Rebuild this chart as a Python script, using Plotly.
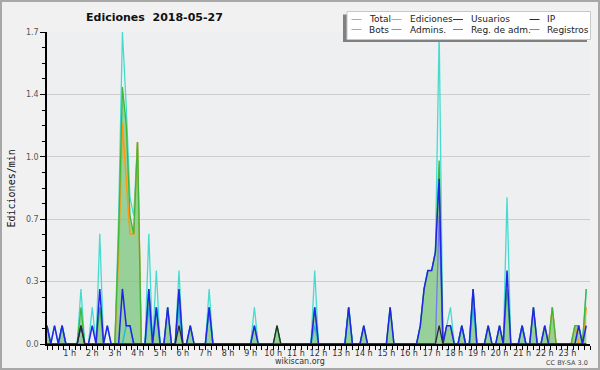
import plotly.graph_objects as go

# 10-minute slots, 6 per hour (one row per hour, 0 h .. 23 h)
total = [
    .1, 0, .1, 0, .1, 0,
    0, 0, 0, .3, 0, 0,
    .2, 0, .6, 0, .1, 0,
    0, .7, 1.7, 1.3, .8, .7,
    1.1, 0, 0, .6, 0, .4,
    0, 0, .2, 0, 0, .4,
    0, 0, .1, 0, 0, 0,
    0, .3, 0, 0, 0, 0,
    0, 0, 0, 0, 0, 0,
    0, .2, 0, 0, 0, 0,
    0, .1, 0, 0, 0, 0,
    0, 0, 0, 0, 0, .4,
    0, 0, 0, 0, 0, 0,
    0, 0, .2, 0, 0, 0,
    .1, 0, 0, 0, 0, 0,
    0, .2, 0, 0, 0, 0,
    0, 0, 0, .1, .3, .4,
    .4, .5, 1.7, 0, .1, .2,
    0, 0, .1, 0, 0, .3,
    0, 0, 0, .1, 0, 0,
    .1, 0, .8, 0, 0, 0,
    .1, 0, 0, .2, 0, 0,
    .1, 0, .2, 0, 0, 0,
    0, 0, .1, .1, 0, .3,
]
ediciones = [
    .1, 0, 0, 0, .1, 0,
    0, 0, 0, .2, 0, 0,
    0, 0, .2, 0, 0, 0,
    0, .6, 1.4, 1.2, .7, .6,
    1.1, 0, 0, .3, 0, .2,
    0, 0, .2, 0, 0, .3,
    0, 0, .1, 0, 0, 0,
    0, .2, 0, 0, 0, 0,
    0, 0, 0, 0, 0, 0,
    0, .1, 0, 0, 0, 0,
    0, .1, 0, 0, 0, 0,
    0, 0, 0, 0, 0, .2,
    0, 0, 0, 0, 0, 0,
    0, 0, .2, 0, 0, 0,
    .1, 0, 0, 0, 0, 0,
    0, .2, 0, 0, 0, 0,
    0, 0, 0, .1, .3, .4,
    .4, .5, 1.0, 0, .1, .1,
    0, 0, .1, 0, 0, .3,
    0, 0, 0, .1, 0, 0,
    .1, 0, .3, 0, 0, 0,
    .1, 0, 0, .2, 0, 0,
    .1, 0, .2, 0, 0, 0,
    0, 0, .1, .1, 0, .3,
]
usuarios = [
    .1, 0, .1, 0, .1, 0,
    0, 0, 0, .1, 0, 0,
    .1, 0, .3, 0, .1, 0,
    0, 0, .3, .1, .1, 0,
    0, 0, 0, .3, 0, .2,
    0, 0, .2, 0, 0, .3,
    0, 0, .1, 0, 0, 0,
    0, .2, 0, 0, 0, 0,
    0, 0, 0, 0, 0, 0,
    0, .1, 0, 0, 0, 0,
    0, 0, 0, 0, 0, 0,
    0, 0, 0, 0, 0, .2,
    0, 0, 0, 0, 0, 0,
    0, 0, .2, 0, 0, 0,
    .1, 0, 0, 0, 0, 0,
    0, .2, 0, 0, 0, 0,
    0, 0, 0, .1, .3, .4,
    .4, .5, .9, 0, .1, .1,
    0, 0, .1, 0, 0, .3,
    0, 0, 0, .1, 0, 0,
    .1, 0, .4, 0, 0, 0,
    .1, 0, 0, .2, 0, 0,
    .1, 0, 0, 0, 0, 0,
    0, 0, 0, .1, 0, .1,
]
ip = [
    0, 0, 0, 0, 0, 0,
    0, 0, 0, .1, 0, 0,
    0, 0, 0, 0, 0, 0,
    0, 0, 0, 0, 0, 0,
    0, 0, 0, 0, 0, 0,
    0, 0, 0, 0, 0, .1,
    0, 0, 0, 0, 0, 0,
    0, 0, 0, 0, 0, 0,
    0, 0, 0, 0, 0, 0,
    0, 0, 0, 0, 0, 0,
    0, .1, 0, 0, 0, 0,
    0, 0, 0, 0, 0, 0,
    0, 0, 0, 0, 0, 0,
    0, 0, 0, 0, 0, 0,
    0, 0, 0, 0, 0, 0,
    0, 0, 0, 0, 0, 0,
    0, 0, 0, 0, 0, 0,
    0, 0, .1, 0, 0, 0,
    0, 0, 0, 0, 0, 0,
    0, 0, 0, 0, 0, 0,
    0, 0, 0, 0, 0, 0,
    0, 0, 0, 0, 0, 0,
    0, 0, 0, 0, 0, 0,
    0, 0, 0, 0, 0, 0,
]
bots = [
    0, 0, 0, 0, 0, 0,
    0, 0, 0, 0, 0, 0,
    0, 0, 0, 0, 0, 0,
    0, .5, 1.2, .9, .6, .6,
    1.1, 0, 0, 0, 0, 0,
    0, 0, 0, 0, 0, 0,
    0, 0, 0, 0, 0, 0,
    0, 0, 0, 0, 0, 0,
    0, 0, 0, 0, 0, 0,
    0, 0, 0, 0, 0, 0,
    0, 0, 0, 0, 0, 0,
    0, 0, 0, 0, 0, 0,
    0, 0, 0, 0, 0, 0,
    0, 0, 0, 0, 0, 0,
    0, 0, 0, 0, 0, 0,
    0, 0, 0, 0, 0, 0,
    0, 0, 0, 0, 0, 0,
    0, 0, 0, 0, 0, 0,
    0, 0, 0, 0, 0, 0,
    0, 0, 0, 0, 0, 0,
    0, 0, 0, 0, 0, 0,
    0, 0, 0, 0, 0, 0,
    0, 0, .2, 0, 0, 0,
    0, 0, .1, 0, 0, .2,
]
admins = [
    0, 0, 0, 0, .1, 0,
    0, 0, 0, 0, 0, 0,
    0, 0, 0, 0, 0, 0,
    0, 0, 0, .1, .1, 0,
    0, 0, 0, .2, 0, .2,
    0, 0, 0, 0, 0, .2,
    0, 0, 0, 0, 0, 0,
    0, .2, 0, 0, 0, 0,
    0, 0, 0, 0, 0, 0,
    0, 0, 0, 0, 0, 0,
    0, 0, 0, 0, 0, 0,
    0, 0, 0, 0, 0, .1,
    0, 0, 0, 0, 0, 0,
    0, 0, .2, 0, 0, 0,
    0, 0, 0, 0, 0, 0,
    0, 0, 0, 0, 0, 0,
    0, 0, 0, 0, 0, 0,
    0, 0, 0, 0, 0, 0,
    0, 0, .1, 0, 0, .2,
    0, 0, 0, 0, 0, 0,
    0, 0, 0, 0, 0, 0,
    .1, 0, 0, 0, 0, 0,
    0, 0, 0, 0, 0, 0,
    0, 0, 0, 0, 0, 0,
]
reg_adm = [0] * 144
registros = [
    0, 0, 0, 0, 0, 0,
    0, 0, 0, 0, 0, 0,
    0, 0, 0, 0, 0, 0,
    0, 0, 0, 0, 0, 0,
    0, 0, 0, 0, 0, 0,
    0, 0, 0, 0, 0, 0,
    0, 0, 0, 0, 0, 0,
    0, 0, 0, 0, 0, 0,
    0, 0, 0, 0, 0, 0,
    0, 0, 0, 0, 0, 0,
    0, 0, 0, 0, 0, 0,
    0, 0, 0, 0, 0, 0,
    0, 0, 0, 0, 0, 0,
    0, 0, 0, 0, 0, 0,
    0, 0, 0, 0, 0, 0,
    0, 0, 0, 0, 0, 0,
    0, 0, 0, 0, 0, 0,
    0, 0, .7, 0, 0, 0,
    0, 0, 0, 0, 0, 0,
    0, 0, 0, 0, 0, 0,
    0, 0, 0, 0, 0, 0,
    0, 0, 0, 0, 0, 0,
    0, 0, 0, 0, 0, 0,
    0, 0, 0, 0, 0, 0,
]

hour_labels = [f"{h} h" for h in range(1, 24)]
y_tick_vals = [0, 0.34, 0.68, 1.02, 1.36, 1.7]
y_tick_text = ["0.0", "0.3", "0.7", "1.0", "1.4", "1.7"]

x = [i / 6 for i in range(len(total))]

C_TOTAL = "#45dccf"
C_ED = "#3cb83c"
C_USR = "#2424e6"
C_IP = "#2a2a2a"
C_BOT = "#ff9910"
C_ADM = "#24bcdc"
C_REGADM = "#cc44dd"
C_REG = "#7878f0"

fig = go.Figure()
fig.add_trace(go.Scatter(x=x, y=ediciones, mode="lines", fill="tozeroy",
                         fillcolor="rgba(118,196,118,0.72)", line=dict(width=0),
                         showlegend=False, hoverinfo="skip"))
for ys, col, w in [(total, C_TOTAL, 1.3), (bots, C_BOT, 1.5), (ediciones, C_ED, 1.3),
                   (admins, C_ADM, 1.5), (registros, C_REG, 1.3), (reg_adm, C_REGADM, 1.3),
                   (usuarios, C_USR, 1.5), (ip, C_IP, 1.3)]:
    fig.add_trace(go.Scatter(x=x, y=ys, mode="lines", line=dict(color=col, width=w),
                             showlegend=False))

L, R, T, B = 47, 10, 32, 26
W, H = 600, 370
PW, PH = W - L - R, H - T - B


def px(X):
    return (X - L) / PW


def py(Y):
    return (H - B - Y) / PH


shapes = []
anns = []
# outer border
shapes.append(dict(type="rect", xref="paper", yref="paper", x0=px(1), x1=px(599), y0=py(1), y1=py(369),
                   line=dict(color="#a8a8a8", width=2), fillcolor="rgba(0,0,0,0)", layer="above"))
# legend box with shadow
shapes.append(dict(type="rect", xref="paper", yref="paper", x0=px(343), x1=px(587), y0=py(14.5), y1=py(42),
                   line=dict(width=0), fillcolor="#808080", layer="above"))
shapes.append(dict(type="rect", xref="paper", yref="paper", x0=px(347), x1=px(590.5), y0=py(11.5), y1=py(39.5),
                   line=dict(color="#c8c8c8", width=1), fillcolor="#ffffff", layer="above"))
legend_items = [
    ("Total", C_TOTAL, 351.5, 366.5, 19.5), ("Ediciones", "#80cc80", 391.5, 408, 19.5),
    ("Usuarios", C_USR, 453, 469, 19.5), ("IP", C_IP, 529.5, 545, 19.5),
    ("Bots", C_BOT, 351.5, 366.5, 29.5), ("Admins.", C_ADM, 391.5, 408, 29.5),
    ("Reg. de adm.", C_REGADM, 453, 469, 29.5), ("Registros", C_REG, 529.5, 545, 29.5),
]
for name, col, sx, tx, yy in legend_items:
    shapes.append(dict(type="line", xref="paper", yref="paper", x0=px(sx), x1=px(sx + 10),
                       y0=py(yy), y1=py(yy), line=dict(color=col, width=1), layer="above"))
    anns.append(dict(text=name, xref="paper", yref="paper", x=px(tx), y=py(yy), xanchor="left",
                     yanchor="middle", showarrow=False, font=dict(family="DejaVu Sans", size=9, color="#222")))

anns.append(dict(text="<b>Ediciones  2018-05-27</b>", xref="paper", yref="paper", x=px(154), y=py(17.5),
                 xanchor="center", yanchor="middle", showarrow=False,
                 font=dict(family="DejaVu Sans", size=11, color="#111")))
anns.append(dict(text="Ediciones/min", xref="paper", yref="paper", x=px(11), y=py(188.5), textangle=-90,
                 xanchor="center", yanchor="middle", showarrow=False,
                 font=dict(family="DejaVu Sans Mono", size=10, color="#111")))
anns.append(dict(text="wikiscan.org", xref="paper", yref="paper", x=px(300), y=py(361.5),
                 xanchor="center", yanchor="middle", showarrow=False,
                 font=dict(family="DejaVu Sans", size=8, color="#333")))
anns.append(dict(text="CC BY-SA 3.0", xref="paper", yref="paper", x=px(590), y=py(362.5),
                 xanchor="right", yanchor="middle", showarrow=False,
                 font=dict(family="DejaVu Sans", size=6.5, color="#444")))

fig.update_layout(
    width=W, height=H, margin=dict(l=L, r=R, t=T, b=B),
    paper_bgcolor="#f1f1f1", plot_bgcolor="#eeeff1",
    shapes=shapes, annotations=anns, showlegend=False,
    xaxis=dict(range=[0, 24], tickmode="array", tickvals=list(range(1, 24)), ticktext=hour_labels,
               ticks="outside", ticklen=4, tickwidth=1, tickcolor="black",
               showline=True, linecolor="black", linewidth=1.5, showgrid=False, zeroline=False,
               tickfont=dict(family="DejaVu Sans", size=8, color="#333"), ticklabelstandoff=-3,
               minor=dict(dtick=0.25, tick0=0, ticks="outside", ticklen=4, tickcolor="black",
                          tickwidth=1, showgrid=False),
               fixedrange=True),
    yaxis=dict(range=[0, 1.7], tickmode="array", tickvals=y_tick_vals, ticktext=y_tick_text,
               ticks="outside", ticklen=5, tickwidth=1, tickcolor="black",
               showline=True, linecolor="black", linewidth=1.5, showgrid=True,
               gridcolor="#cdcdcd", gridwidth=1, zeroline=False,
               tickfont=dict(family="DejaVu Sans", size=8, color="#555"),
               minor=dict(dtick=0.085, tick0=0, ticks="outside", ticklen=3, tickcolor="black",
                          tickwidth=1, showgrid=False),
               fixedrange=True),
)

fig.write_html("out.html", config={"displayModeBar": False},
               post_script="document.body.style.margin='0';document.body.style.overflow='hidden';")
